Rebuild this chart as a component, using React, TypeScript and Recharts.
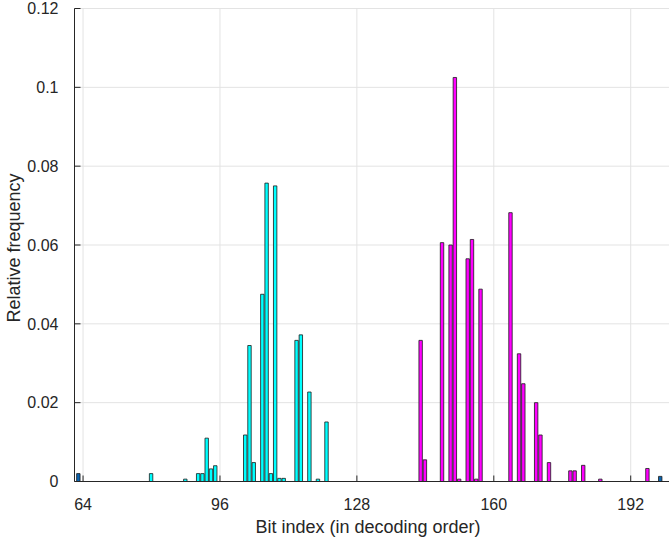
import React from "react";
import { BarChart, Bar, XAxis, YAxis, CartesianGrid, Cell } from "recharts";

// Bit indices (in decoding order) and relative frequencies, per group
const cyanBits = [80, 88, 91, 92, 93, 94, 95, 102, 103, 104, 106, 107, 108, 109, 110, 111, 114, 115, 117, 119, 121];
const cyanFreq = [0.002, 0.0006, 0.002, 0.002, 0.011, 0.0032, 0.004, 0.0118, 0.0345, 0.0048, 0.0475, 0.0757, 0.002, 0.075, 0.0008, 0.0008, 0.0358, 0.0372, 0.0227, 0.0006, 0.0151];

const magentaBits = [143, 144, 148, 150, 151, 152, 154, 155, 156, 157, 164, 166, 167, 170, 171, 173, 178, 179, 181, 185, 196];
const magentaFreq = [0.0358, 0.0055, 0.0606, 0.06, 0.1025, 0.0006, 0.0565, 0.0614, 0.0006, 0.0488, 0.0682, 0.0324, 0.0248, 0.02, 0.0118, 0.0048, 0.0027, 0.0027, 0.0041, 0.0006, 0.0033];

const blueBits = [63, 199];
const blueFreq = [0.002, 0.0013];

const xTicks = [64, 96, 128, 160, 192];
const yTicks = [0, 0.02, 0.04, 0.06, 0.08, 0.1, 0.12];

const COLORS = { cyan: "#00ffff", magenta: "#ff00ff", blue: "#0b64b0" };

const rows = [
  ...cyanBits.map((b, i) => ({ bit: b, freq: cyanFreq[i], group: "cyan" })),
  ...magentaBits.map((b, i) => ({ bit: b, freq: magentaFreq[i], group: "magenta" })),
  ...blueBits.map((b, i) => ({ bit: b, freq: blueFreq[i], group: "blue" })),
].sort((a, b) => a.bit - b.bit);

const FONT = "'Liberation Sans', Arial, Helvetica, sans-serif";
const AX = "#262626";

export default function App() {
  return (
    <div
      style={{
        position: "absolute",
        left: 0,
        top: 0,
        width: 669,
        height: 543,
        overflow: "hidden",
        background: "#ffffff",
      }}
    >
      <BarChart
        width={680}
        height={543}
        data={rows}
        margin={{ top: 8.5, right: 6.5, bottom: 0, left: 0 }}
        barCategoryGap={0}
      >
        <CartesianGrid stroke="#e3e3e3" strokeWidth={1} />
        <XAxis
          dataKey="bit"
          type="number"
          domain={[62, 202]}
          ticks={xTicks}
          allowDataOverflow
          height={61.5}
          tickSize={-6}
          tickMargin={23}
          axisLine={{ stroke: AX, strokeWidth: 1 }}
          tickLine={{ stroke: AX, strokeWidth: 1 }}
          tick={{ fill: AX, fontSize: 16, fontFamily: FONT }}
          interval={0}
        />
        <XAxis
          xAxisId="top"
          orientation="top"
          dataKey="bit"
          type="number"
          domain={[62, 202]}
          ticks={xTicks}
          allowDataOverflow
          height={0}
          tickSize={-6}
          axisLine={{ stroke: AX, strokeWidth: 1 }}
          tickLine={{ stroke: AX, strokeWidth: 1 }}
          tick={false}
        />
        <YAxis
          type="number"
          domain={[0, 0.12]}
          ticks={yTicks}
          allowDataOverflow
          width={74.5}
          tickSize={-6}
          tickMargin={22}
          axisLine={{ stroke: AX, strokeWidth: 1 }}
          tickLine={{ stroke: AX, strokeWidth: 1 }}
          tick={{ fill: AX, fontSize: 16, fontFamily: FONT }}
          tickFormatter={(v: number) => String(Number(v.toFixed(2)))}
          interval={0}
        />
        <YAxis
          yAxisId="right"
          orientation="right"
          type="number"
          domain={[0, 0.12]}
          ticks={yTicks}
          allowDataOverflow
          width={0}
          tickSize={-6}
          axisLine={{ stroke: AX, strokeWidth: 1 }}
          tickLine={{ stroke: AX, strokeWidth: 1 }}
          tick={false}
        />
        <Bar
          dataKey="freq"
          barSize={3.42}
          stroke="#1a1a1a"
          strokeWidth={0.8}
          isAnimationActive={false}
        >
          {rows.map((r, i) => (
            <Cell key={i} fill={COLORS[r.group as keyof typeof COLORS]} />
          ))}
        </Bar>
      </BarChart>
      <svg
        width={669}
        height={543}
        style={{ position: "absolute", left: 0, top: 0, pointerEvents: "none" }}
      >
        <text
          x={368}
          y={533}
          textAnchor="middle"
          fontSize={18}
          fontFamily={FONT}
          fill={AX}
        >
          Bit index (in decoding order)
        </text>
        <text
          x={20}
          y={248}
          textAnchor="middle"
          fontSize={18}
          fontFamily={FONT}
          fill={AX}
          transform="rotate(-90 20 248)"
        >
          Relative frequency
        </text>
      </svg>
    </div>
  );
}
